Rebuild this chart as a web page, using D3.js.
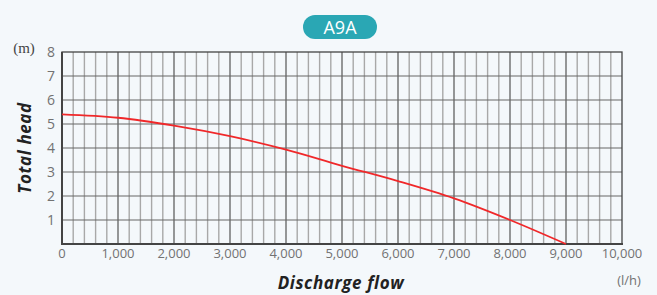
<!DOCTYPE html>
<html>
<head>
<meta charset="utf-8">
<title>A9A</title>
<style>
body { margin: 0; background: #f4f8fb; }
svg { display: block; }
.tick-label { font-family: "Open Sans", sans-serif; font-size: 13px; fill: #727272; }
.axis-title { font-family: "Open Sans", sans-serif; font-size: 17px; font-weight: 700; font-style: italic; fill: #222; letter-spacing: 0.6px; }
</style>
</head>
<body>
<svg width="657" height="295"></svg>
<script src="https://d3js.org/d3.v7.min.js"></script>
<script>

var title = "A9A";
var flowValues = [0, 1000, 2000, 3000, 4000, 5000, 6000, 7000, 8000, 9000];
var headValues = [5.4, 5.26, 4.93, 4.49, 3.93, 3.26, 2.62, 1.9, 1.0, 0];
var xTicks = [0, 1000, 2000, 3000, 4000, 5000, 6000, 7000, 8000, 9000, 10000];
var yTicks = [1, 2, 3, 4, 5, 6, 7, 8];

var svg = d3.select("svg"),
    width = +svg.attr("width"),
    height = +svg.attr("height");

var margin = {top: 52, right: 35, bottom: 51, left: 62};

var x = d3.scaleLinear().domain([0, 10000]).range([margin.left, width - margin.right]);
var y = d3.scaleLinear().domain([0, 8]).range([height - margin.bottom, margin.top]);

// minor verticals every 200
var minor = d3.range(200, 10000, 200).filter(function(v) { return v % 1000 !== 0; });
svg.append("g").selectAll("line")
  .data(minor)
  .enter().append("line")
    .attr("x1", function(d) { return x(d); })
    .attr("x2", function(d) { return x(d); })
    .attr("y1", y(0))
    .attr("y2", y(8))
    .attr("stroke", "#a8a8a8")
    .attr("stroke-width", 1.4);

// major verticals
svg.append("g").selectAll("line")
  .data(xTicks.slice(1, -1))
  .enter().append("line")
    .attr("x1", function(d) { return x(d); })
    .attr("x2", function(d) { return x(d); })
    .attr("y1", y(0))
    .attr("y2", y(8))
    .attr("stroke", "#616161")
    .attr("stroke-width", 1.3);

// horizontals
svg.append("g").selectAll("line")
  .data(yTicks.slice(0, -1))
  .enter().append("line")
    .attr("x1", x(0))
    .attr("x2", x(10000))
    .attr("y1", function(d) { return y(d); })
    .attr("y2", function(d) { return y(d); })
    .attr("stroke", "#666")
    .attr("stroke-width", 1.2);

// frame
svg.append("rect")
    .attr("x", x(0))
    .attr("y", y(8))
    .attr("width", x(10000) - x(0))
    .attr("height", y(0) - y(8))
    .attr("fill", "none")
    .attr("stroke", "#444")
    .attr("stroke-width", 1.3);
svg.append("line")
    .attr("x1", x(0)).attr("x2", x(0))
    .attr("y1", y(8)).attr("y2", y(0) + 1)
    .attr("stroke", "#444").attr("stroke-width", 2);
svg.append("line")
    .attr("x1", x(0)).attr("x2", x(10000) + 1)
    .attr("y1", y(0)).attr("y2", y(0))
    .attr("stroke", "#444").attr("stroke-width", 2);

// curve
var points = flowValues.map(function(f, i) { return [f, headValues[i]]; });
var line = d3.line()
    .x(function(d) { return x(d[0]); })
    .y(function(d) { return y(d[1]); })
    .curve(d3.curveMonotoneX);

svg.append("path")
    .datum(points)
    .attr("d", line)
    .attr("fill", "none")
    .attr("stroke", "#f0282a")
    .attr("stroke-width", 1.8);

// tick labels
svg.append("g").selectAll("text")
  .data(xTicks)
  .enter().append("text")
    .attr("class", "tick-label")
    .attr("x", function(d) { return x(d); })
    .attr("y", y(0) + 14)
    .attr("text-anchor", "middle")
    .text(function(d) { return d3.format(",")(d); });

svg.append("g").selectAll("text")
  .data(yTicks)
  .enter().append("text")
    .attr("class", "tick-label")
    .style("font-size", "14px")
    .attr("x", x(0) - 7)
    .attr("y", function(d) { return y(d) + 5; })
    .attr("text-anchor", "end")
    .text(function(d) { return d; });

// units
svg.append("text")
    .attr("x", 24).attr("y", 53)
    .attr("text-anchor", "middle")
    .style("font-family", "'Liberation Serif', serif")
    .style("font-size", "15px")
    .attr("fill", "#444")
    .text("(m)");

svg.append("text")
    .attr("class", "tick-label")
    .attr("x", 629).attr("y", 285)
    .attr("text-anchor", "middle")
    .text("(l/h)");

// axis titles
svg.append("text")
    .attr("class", "axis-title")
    .attr("transform", "translate(31," + ((y(0) + y(8)) / 2) + ") rotate(-90)")
    .attr("text-anchor", "middle")
    .text("Total head");

svg.append("text")
    .attr("class", "axis-title")
    .attr("x", 341).attr("y", 289)
    .attr("text-anchor", "middle")
    .text("Discharge flow");

// title pill
var pill = svg.append("g");
pill.append("rect")
    .attr("x", 303).attr("y", 15)
    .attr("width", 74).attr("height", 24)
    .attr("rx", 12)
    .attr("fill", "#2aa7b4");
pill.append("text")
    .attr("x", 340).attr("y", 34)
    .attr("text-anchor", "middle")
    .style("font-family", "'Open Sans', sans-serif")
    .style("font-size", "18px")
    .attr("fill", "#fff")
    .text(title);

</script>
</body>
</html>
